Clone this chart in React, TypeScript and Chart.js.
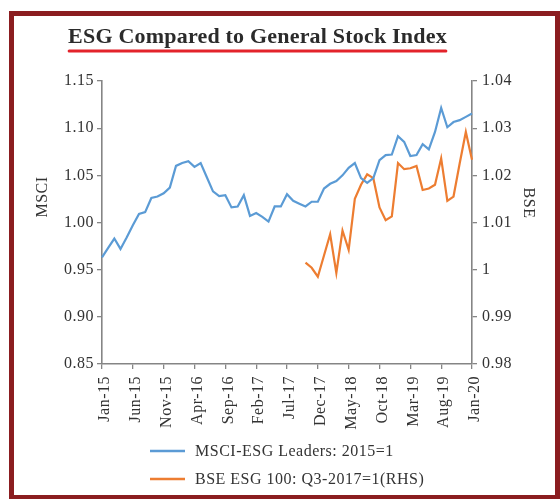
import React, { useEffect, useRef } from 'react';
import { Chart, registerables } from 'chart.js';

Chart.register(...registerables);

const categories: string[] = [
  'Jan-15', 'Feb-15', 'Mar-15', 'Apr-15', 'May-15', 'Jun-15', 'Jul-15', 'Aug-15', 'Sep-15', 'Oct-15', 'Nov-15', 'Dec-15',
  'Jan-16', 'Feb-16', 'Mar-16', 'Apr-16', 'May-16', 'Jun-16', 'Jul-16', 'Aug-16', 'Sep-16', 'Oct-16', 'Nov-16', 'Dec-16',
  'Jan-17', 'Feb-17', 'Mar-17', 'Apr-17', 'May-17', 'Jun-17', 'Jul-17', 'Aug-17', 'Sep-17', 'Oct-17', 'Nov-17', 'Dec-17',
  'Jan-18', 'Feb-18', 'Mar-18', 'Apr-18', 'May-18', 'Jun-18', 'Jul-18', 'Aug-18', 'Sep-18', 'Oct-18', 'Nov-18', 'Dec-18',
  'Jan-19', 'Feb-19', 'Mar-19', 'Apr-19', 'May-19', 'Jun-19', 'Jul-19', 'Aug-19', 'Sep-19', 'Oct-19', 'Nov-19', 'Dec-19',
  'Jan-20',
];

const msciValues: number[] = [
  0.963, 0.973, 0.983, 0.972, 0.984, 0.997, 1.009, 1.011, 1.026, 1.0275, 1.031, 1.037,
  1.060, 1.063, 1.065, 1.059, 1.063, 1.048, 1.033, 1.028, 1.029, 1.016, 1.017, 1.029,
  1.007, 1.010, 1.006, 1.001, 1.017, 1.017, 1.030, 1.023, 1.020, 1.017, 1.022, 1.022,
  1.036, 1.041, 1.044, 1.050, 1.058, 1.063, 1.047, 1.042, 1.047, 1.066, 1.0715, 1.072,
  1.0915, 1.0855, 1.0705, 1.0715, 1.083, 1.0775, 1.096, 1.1215, 1.101, 1.1065, 1.1085, 1.112,
  1.1155,
];

const bseValues: (number | null)[] = [
  null, null, null, null, null, null, null, null, null, null, null, null,
  null, null, null, null, null, null, null, null, null, null, null, null,
  null, null, null, null, null, null, null, null, null, 1.0015, 1.0004, 0.9985,
  1.003, 1.0075, 0.9993, 1.0083, 1.0042, 1.015, 1.018, 1.0202, 1.0194, 1.0132, 1.0105, 1.0113,
  1.0226, 1.0213, 1.0215, 1.022, 1.0169, 1.0172, 1.018, 1.0236, 1.0146, 1.0155, 1.0225, 1.0292,
  1.0233,
];

const titleText = 'ESG Compared to General Stock Index';
const leftAxisTitle = 'MSCI';
const rightAxisTitle = 'BSE';
const msciLabel = 'MSCI-ESG Leaders: 2015=1';
const bseLabel = 'BSE ESG 100: Q3-2017=1(RHS)';

const BLUE = '#5b9bd5';
const ORANGE = '#ed7d31';
const AXIS = '#858585';
const TEXT = '#333333';
const FONT = "'Liberation Serif', 'Times New Roman', serif";

const decorPlugin = {
  id: 'decor',
  beforeDraw(chart: any) {
    (chart.ctx as any).letterSpacing = '0.5px';
  },
  afterDraw(chart: any) {
    const ctx = chart.ctx as CanvasRenderingContext2D & { letterSpacing: string };
    ctx.save();
    // title
    ctx.letterSpacing = '0.2px';
    ctx.font = `bold 22px ${FONT}`;
    ctx.fillStyle = '#2b2b2b';
    ctx.textAlign = 'center';
    ctx.textBaseline = 'alphabetic';
    const cx = 257.5;
    ctx.fillText(titleText, cx, 43);
    const w = ctx.measureText(titleText).width;
    ctx.strokeStyle = '#e3232b';
    ctx.lineWidth = 3;
    ctx.lineCap = 'round';
    ctx.beginPath();
    ctx.moveTo(cx - w / 2 + 1, 51);
    ctx.lineTo(cx + w / 2 - 1, 51);
    ctx.stroke();

    // axis titles
    ctx.letterSpacing = '0.5px';
    ctx.font = `16px ${FONT}`;
    ctx.fillStyle = TEXT;
    ctx.textBaseline = 'middle';
    ctx.save();
    ctx.translate(43, 197);
    ctx.rotate(-Math.PI / 2);
    ctx.fillText(leftAxisTitle, 0, 0);
    ctx.restore();
    ctx.save();
    ctx.translate(528, 203);
    ctx.rotate(Math.PI / 2);
    ctx.fillText(rightAxisTitle, 0, 0);
    ctx.restore();

    // legend
    const items = [
      { text: msciLabel, color: chart.data.datasets[0].borderColor, y: 451 },
      { text: bseLabel, color: chart.data.datasets[1].borderColor, y: 479 },
    ];
    ctx.textAlign = 'left';
    ctx.lineCap = 'butt';
    for (const it of items) {
      ctx.strokeStyle = it.color;
      ctx.lineWidth = 2.5;
      ctx.beginPath();
      ctx.moveTo(150, it.y);
      ctx.lineTo(185, it.y);
      ctx.stroke();
      ctx.fillText(it.text, 195, it.y + 1);
    }
    ctx.restore();
  },
};

export default function App() {
  const canvasRef = useRef<HTMLCanvasElement | null>(null);

  useEffect(() => {
    if (!canvasRef.current) return;
    const chart = new Chart(canvasRef.current, {
      type: 'line',
      data: {
        labels: categories,
        datasets: [
          {
            label: msciLabel,
            data: msciValues,
            borderColor: BLUE,
            backgroundColor: BLUE,
            borderWidth: 2.2,
            pointRadius: 0,
            tension: 0,
            yAxisID: 'y',
          },
          {
            label: bseLabel,
            data: bseValues,
            borderColor: ORANGE,
            backgroundColor: ORANGE,
            borderWidth: 2.2,
            pointRadius: 0,
            tension: 0,
            yAxisID: 'y1',
          },
        ],
      },
      plugins: [decorPlugin],
      options: {
        animation: false,
        responsive: false,
        maintainAspectRatio: false,
        layout: { padding: { top: 81, left: 0, right: 0, bottom: 0 } },
        plugins: {
          legend: { display: false },
          title: { display: false },
          tooltip: { enabled: false },
        },
        scales: {
          x: {
            type: 'category',
            offset: false,
            afterFit: (s: any) => { s.height = 135; },
            border: { color: AXIS, width: 1.6 },
            grid: { drawOnChartArea: false, color: AXIS, tickLength: 5, lineWidth: 1.3 },
            ticks: {
              autoSkip: false,
              maxRotation: 90,
              minRotation: 90,
              padding: 7,
              labelOffset: 3,
              color: TEXT,
              font: { family: FONT, size: 16 },
              callback: (_v: any, i: number) => (i % 5 === 0 ? categories[i] : null),
            },
          },
          y: {
            position: 'left',
            min: 0.85,
            max: 1.15,
            afterFit: (s: any) => { s.width = 102; },
            border: { color: AXIS, width: 1.6 },
            grid: { drawOnChartArea: false, color: AXIS, tickLength: 5, lineWidth: 1.3 },
            ticks: {
              stepSize: 0.05,
              padding: 3,
              color: TEXT,
              font: { family: FONT, size: 16 },
              callback: (v: any) => Number(v).toFixed(2),
            },
          },
          y1: {
            position: 'right',
            min: 0.98,
            max: 1.04,
            afterFit: (s: any) => { s.width = 88; },
            border: { color: AXIS, width: 1.6 },
            grid: { drawOnChartArea: false, color: AXIS, tickLength: 5, lineWidth: 1.3 },
            ticks: {
              stepSize: 0.01,
              padding: 5,
              color: TEXT,
              font: { family: FONT, size: 16 },
              callback: (v: any) => String(Number(Number(v).toFixed(2))),
            },
          },
        },
      },
    });
    return () => chart.destroy();
  }, []);

  return (
    <div style={{ position: 'fixed', left: 0, top: 0, width: 560, height: 499, background: '#ffffff', overflow: 'hidden' }}>
      <canvas ref={canvasRef} width={560} height={499} style={{ position: 'absolute', left: 0, top: 0, width: 560, height: 499 }} />
      <div
        style={{
          position: 'absolute',
          left: 9,
          top: 11,
          width: 551,
          height: 489,
          boxSizing: 'border-box',
          border: '5px solid #8b1d20',
          pointerEvents: 'none',
        }}
      />
    </div>
  );
}
